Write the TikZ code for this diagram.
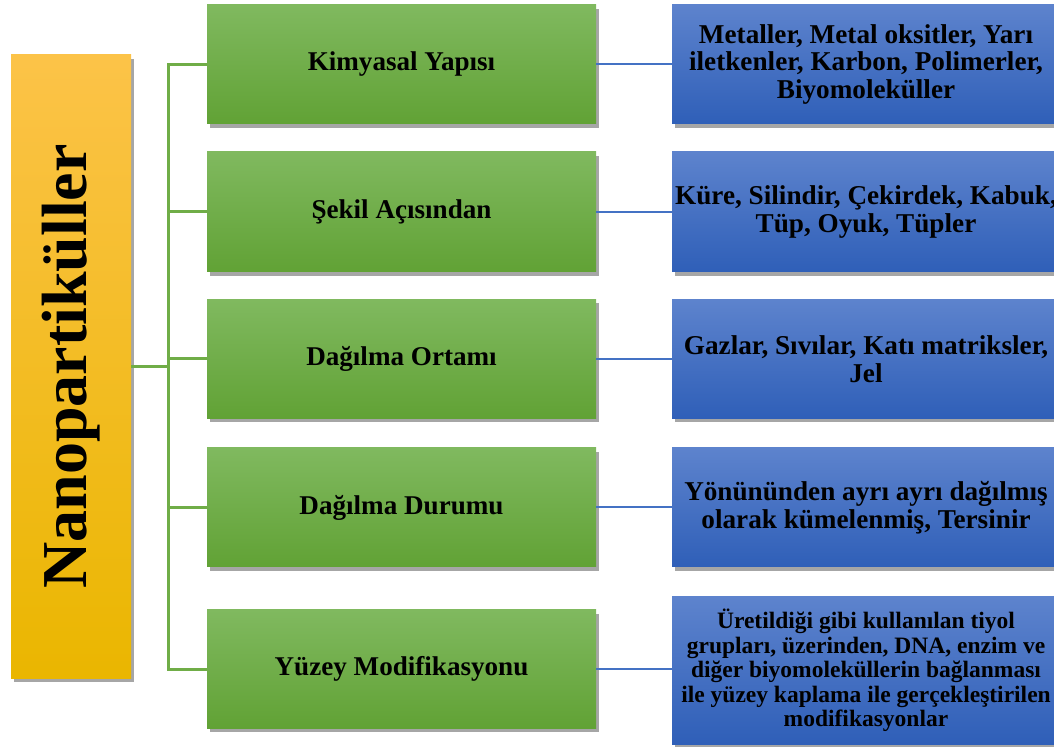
\documentclass[tikz,border=0pt]{standalone}
\usepackage{fontspec}
\setmainfont{Liberation Serif}
\usetikzlibrary{shadows}
\definecolor{greentop}{RGB}{128,185,95}
\definecolor{greenbot}{RGB}{97,162,53}
\definecolor{bluetop}{RGB}{93,131,205}
\definecolor{bluebot}{RGB}{47,95,184}
\definecolor{orangetop}{RGB}{252,195,72}
\definecolor{orangemid}{RGB}{253,196,0}
\definecolor{orangebot}{RGB}{234,182,0}
\definecolor{greenline}{RGB}{112,173,71}
\definecolor{blueline}{RGB}{68,114,196}

\begin{document}
\begin{tikzpicture}[x=0.5pt,y=-0.5pt,
    boxshadow/.style={drop shadow={shadow xshift=1.5pt,shadow yshift=-2pt,opacity=0.35,fill=black}},
    catbox/.style={boxshadow,shading=axis,top color=greentop,bottom color=greenbot,
        minimum width=194.5pt,inner sep=0pt,align=center,
        font=\fontsize{13.55}{13.9}\selectfont\bfseries},
    infobox/.style={boxshadow,shading=axis,top color=bluetop,bottom color=bluebot,
        minimum width=194pt,inner sep=0pt,align=center,
        font=\fontsize{13.6}{13.9}\selectfont\bfseries},
    greenwire/.style={draw=greenline,line width=1.5pt},
    bluewire/.style={draw=blueline,line width=1pt}]
  \clip (0,0) rectangle (1054,747);

  \node[boxshadow,shading=axis,top color=orangetop,middle color=orangemid,bottom color=orangebot,
      minimum width=60pt,minimum height=311.5pt,inner sep=0pt] (nano) at (71,366.5) {};
  \node[rotate=90,font=\fontsize{32}{32}\selectfont\bfseries] (nanotext) at (nano.center) {Nanopartiküller};

  \node[catbox,minimum height=59.5pt] (g1) at (401.5,64.5) {Kimyasal Yapısı};
  \node[catbox,minimum height=60pt] (g2) at (401.5,212) {Şekil Açısından};
  \node[catbox,minimum height=59.5pt] (g3) at (401.5,359) {Dağılma Ortamı};
  \node[catbox,minimum height=59.5pt] (g4) at (401.5,507.5) {Dağılma Durumu};
  \node[catbox,minimum height=59pt] (g5) at (401.5,669) {Yüzey Modifikasyonu};

  \node[infobox,minimum height=59.5pt] (b1) at (866,64.5) {Metaller, Metal oksitler, Yarı\\iletkenler, Karbon, Polimerler,\\Biyomoleküller};
  \node[infobox,minimum height=60pt] (b2) at (866,212) {Küre, Silindir, Çekirdek, Kabuk,\\Tüp, Oyuk, Tüpler};
  \node[infobox,minimum height=59.5pt] (b3) at (866,359) {Gazlar, Sıvılar, Katı matriksler,\\Jel};
  \node[infobox,minimum height=59.5pt] (b4) at (866,507.5) {Yönününden ayrı ayrı dağılmış\\olarak kümelenmiş, Tersinir};
  \node[infobox,minimum height=73.5pt,font=\fontsize{11.75}{12.25}\selectfont\bfseries] (b5) at (866,670.5) {Üretildiği gibi kullanılan tiyol\\grupları, üzerinden, DNA, enzim ve\\diğer biyomoleküllerin bağlanması\\ile yüzey kaplama ile gerçekleştirilen\\modifikasyonlar};

  \coordinate (bus) at (168,366.5);
  \draw[greenwire] (nano.east) -- (bus);
  \draw[greenwire] (bus) |- (g1.west);
  \draw[greenwire] (bus) |- (g2.west);
  \draw[greenwire] (bus) |- (g3.west);
  \draw[greenwire] (bus) |- (g4.west);
  \draw[greenwire] (bus) |- (g5.west);

  \draw[bluewire] (g1.east) -- (b1.west);
  \draw[bluewire] (g2.east) -- (b2.west);
  \draw[bluewire] (g3.east) -- (b3.west);
  \draw[bluewire] (g4.east) -- (b4.west);
  \draw[bluewire] (g5.east) -- (g5.east -| b5.west);
\end{tikzpicture}
\end{document}
